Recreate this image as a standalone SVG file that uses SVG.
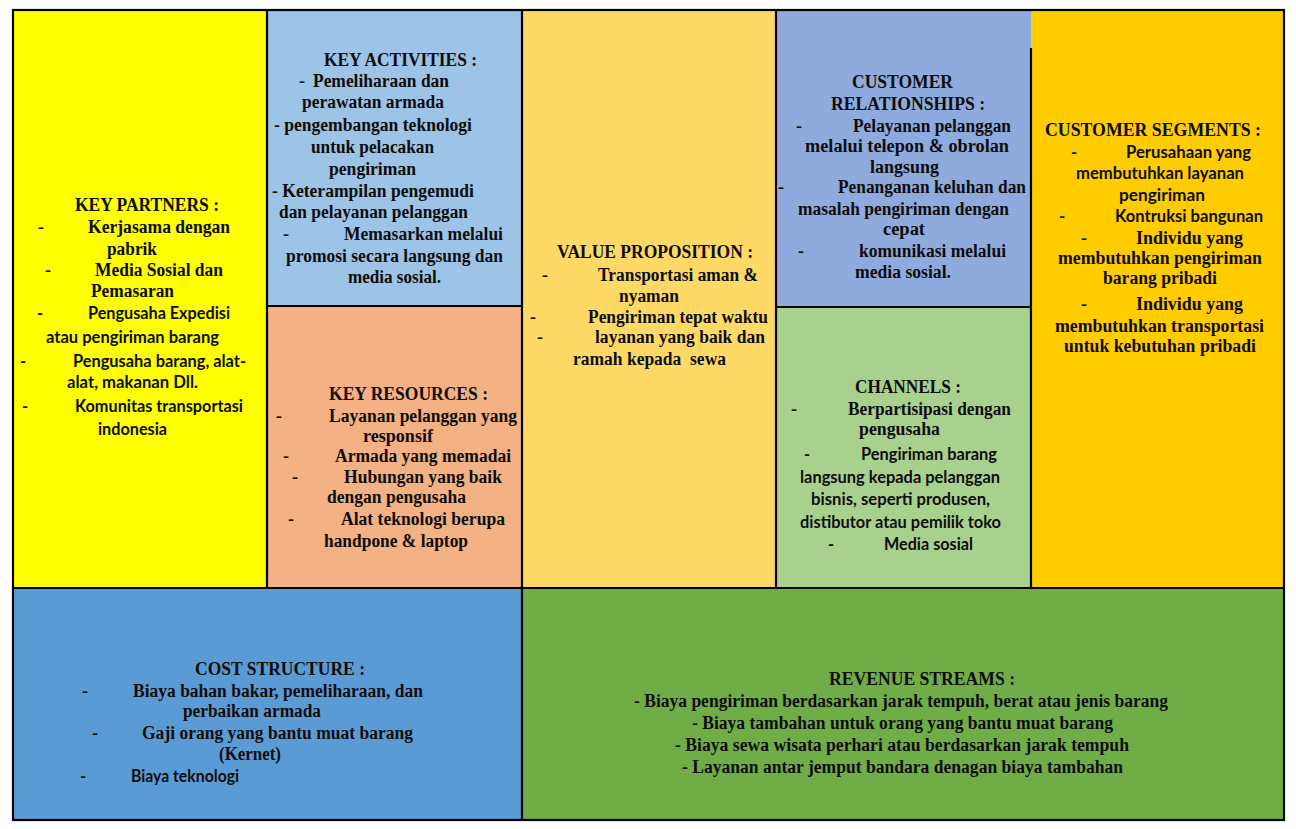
<svg xmlns="http://www.w3.org/2000/svg" width="1296" height="829" viewBox="0 0 1296 829">
<style>
text{fill:#0d0d0d;font-weight:bold}
.s{font-family:"Liberation Serif","Times New Roman",serif;font-size:18px}
.n{font-family:Lato,"Liberation Sans",sans-serif;font-size:16.5px}
.ln{stroke:#000;stroke-width:2.2;fill:none}
</style>
<rect width="1296" height="829" fill="#fff"/>
<g id="key-partners">
<rect x="13" y="10" width="254" height="578" fill="#FFFF00"/>
<text class="s" x="75" y="211" textLength="144" lengthAdjust="spacingAndGlyphs">KEY PARTNERS :</text>
<text class="s" x="38" y="233">-</text><text class="s" x="88" y="233" textLength="142" lengthAdjust="spacingAndGlyphs">Kerjasama dengan</text>
<text class="s" x="107" y="255" textLength="50" lengthAdjust="spacingAndGlyphs">pabrik</text>
<text class="s" x="45" y="276">-</text><text class="s" x="95" y="276" textLength="128" lengthAdjust="spacingAndGlyphs">Media Sosial dan</text>
<text class="s" x="91" y="297" textLength="83" lengthAdjust="spacingAndGlyphs">Pemasaran</text>
<text class="n" x="37" y="319">-</text><text class="n" x="88" y="319" textLength="142" lengthAdjust="spacingAndGlyphs">Pengusaha Expedisi</text>
<text class="n" x="46" y="343" textLength="173" lengthAdjust="spacingAndGlyphs">atau pengiriman barang</text>
<text class="n" x="20" y="367">-</text><text class="n" x="73" y="367" textLength="173" lengthAdjust="spacingAndGlyphs">Pengusaha barang, alat-</text>
<text class="n" x="67" y="388" textLength="131" lengthAdjust="spacingAndGlyphs">alat, makanan Dll.</text>
<text class="n" x="22" y="412">-</text><text class="n" x="75" y="412" textLength="168" lengthAdjust="spacingAndGlyphs">Komunitas transportasi</text>
<text class="n" x="98" y="435" textLength="69" lengthAdjust="spacingAndGlyphs">indonesia</text>
</g>
<g id="key-activities">
<rect x="267" y="10" width="255" height="296" fill="#9DC3E6"/>
<text class="s" x="324" y="66" textLength="153" lengthAdjust="spacingAndGlyphs">KEY ACTIVITIES :</text>
<text class="s" x="299" y="87">-</text><text class="s" x="313" y="87" textLength="136" lengthAdjust="spacingAndGlyphs">Pemeliharaan dan</text>
<text class="s" x="302" y="108" textLength="142" lengthAdjust="spacingAndGlyphs">perawatan armada</text>
<text class="s" x="274" y="131" textLength="198" lengthAdjust="spacingAndGlyphs">- pengembangan teknologi</text>
<text class="s" x="311" y="153" textLength="123" lengthAdjust="spacingAndGlyphs">untuk pelacakan</text>
<text class="s" x="329" y="175" textLength="87" lengthAdjust="spacingAndGlyphs">pengiriman</text>
<text class="s" x="272" y="197" textLength="202" lengthAdjust="spacingAndGlyphs">- Keterampilan pengemudi</text>
<text class="s" x="279" y="218" textLength="189" lengthAdjust="spacingAndGlyphs">dan pelayanan pelanggan</text>
<text class="s" x="283" y="240">-</text><text class="s" x="344" y="240" textLength="159" lengthAdjust="spacingAndGlyphs">Memasarkan melalui</text>
<text class="s" x="286" y="262" textLength="217" lengthAdjust="spacingAndGlyphs">promosi secara langsung dan</text>
<text class="s" x="348" y="283" textLength="93" lengthAdjust="spacingAndGlyphs">media sosial.</text>
</g>
<g id="key-resources">
<rect x="267" y="306" width="255" height="282" fill="#F4B183"/>
<text class="s" x="329" y="400" textLength="159" lengthAdjust="spacingAndGlyphs">KEY RESOURCES :</text>
<text class="s" x="276" y="422">-</text><text class="s" x="329" y="422" textLength="188" lengthAdjust="spacingAndGlyphs">Layanan pelanggan yang</text>
<text class="s" x="363" y="442" textLength="70" lengthAdjust="spacingAndGlyphs">responsif</text>
<text class="s" x="283" y="462">-</text><text class="s" x="335" y="462" textLength="176" lengthAdjust="spacingAndGlyphs">Armada yang memadai</text>
<text class="s" x="292" y="483">-</text><text class="s" x="344" y="483" textLength="158" lengthAdjust="spacingAndGlyphs">Hubungan yang baik</text>
<text class="s" x="327" y="503" textLength="139" lengthAdjust="spacingAndGlyphs">dengan pengusaha</text>
<text class="s" x="288" y="525">-</text><text class="s" x="341" y="525" textLength="164" lengthAdjust="spacingAndGlyphs">Alat teknologi berupa</text>
<text class="s" x="324" y="547" textLength="144" lengthAdjust="spacingAndGlyphs">handpone &amp; laptop</text>
</g>
<g id="value-proposition">
<rect x="522" y="10" width="254" height="578" fill="#FFD966"/>
<text class="s" x="557" y="258" textLength="196" lengthAdjust="spacingAndGlyphs">VALUE PROPOSITION :</text>
<text class="s" x="542" y="281">-</text><text class="s" x="598" y="281" textLength="160" lengthAdjust="spacingAndGlyphs">Transportasi aman &amp;</text>
<text class="s" x="619" y="302" textLength="60" lengthAdjust="spacingAndGlyphs">nyaman</text>
<text class="s" x="530" y="323">-</text><text class="s" x="588" y="323" textLength="180" lengthAdjust="spacingAndGlyphs">Pengiriman tepat waktu</text>
<text class="s" x="537" y="343">-</text><text class="s" x="595" y="343" textLength="170" lengthAdjust="spacingAndGlyphs">layanan yang baik dan</text>
<text class="s" x="573" y="365" textLength="153" lengthAdjust="spacingAndGlyphs" xml:space="preserve">ramah kepada  sewa</text>
</g>
<g id="customer-relationships">
<rect x="776" y="10" width="255" height="297" fill="#8FAADC"/>
<text class="s" x="852" y="88" textLength="101" lengthAdjust="spacingAndGlyphs">CUSTOMER</text>
<text class="s" x="831" y="110" textLength="154" lengthAdjust="spacingAndGlyphs">RELATIONSHIPS :</text>
<text class="s" x="796" y="132">-</text><text class="s" x="853" y="132" textLength="158" lengthAdjust="spacingAndGlyphs">Pelayanan pelanggan</text>
<text class="s" x="805" y="152" textLength="204" lengthAdjust="spacingAndGlyphs">melalui telepon &amp; obrolan</text>
<text class="s" x="870" y="173" textLength="69" lengthAdjust="spacingAndGlyphs">langsung</text>
<text class="s" x="778" y="193">-</text><text class="s" x="838" y="193" textLength="188" lengthAdjust="spacingAndGlyphs">Penanganan keluhan dan</text>
<text class="s" x="798" y="215" textLength="211" lengthAdjust="spacingAndGlyphs">masalah pengiriman dengan</text>
<text class="s" x="883" y="235" textLength="42" lengthAdjust="spacingAndGlyphs">cepat</text>
<text class="s" x="798" y="257">-</text><text class="s" x="859" y="257" textLength="147" lengthAdjust="spacingAndGlyphs">komunikasi melalui</text>
<text class="s" x="855" y="278" textLength="96" lengthAdjust="spacingAndGlyphs">media sosial.</text>
</g>
<g id="channels">
<rect x="776" y="307" width="255" height="281" fill="#A9D18E"/>
<text class="s" x="855" y="393" textLength="106" lengthAdjust="spacingAndGlyphs">CHANNELS :</text>
<text class="s" x="791" y="415">-</text><text class="s" x="848" y="415" textLength="163" lengthAdjust="spacingAndGlyphs">Berpartisipasi dengan</text>
<text class="s" x="859" y="435" textLength="81" lengthAdjust="spacingAndGlyphs">pengusaha</text>
<text class="n" x="804" y="460">-</text><text class="n" x="861" y="460" textLength="136" lengthAdjust="spacingAndGlyphs">Pengiriman barang</text>
<text class="n" x="800" y="483" textLength="200" lengthAdjust="spacingAndGlyphs">langsung kepada pelanggan</text>
<text class="n" x="811" y="505" textLength="179" lengthAdjust="spacingAndGlyphs">bisnis, seperti produsen,</text>
<text class="n" x="800" y="528" textLength="201" lengthAdjust="spacingAndGlyphs">distibutor atau pemilik toko</text>
<text class="n" x="828" y="550">-</text><text class="n" x="884" y="550" textLength="89" lengthAdjust="spacingAndGlyphs">Media sosial</text>
</g>
<g id="customer-segments">
<rect x="1031" y="10" width="253" height="578" fill="#FFCC00"/>
<text class="s" x="1045" y="136" textLength="216" lengthAdjust="spacingAndGlyphs">CUSTOMER SEGMENTS :</text>
<text class="n" x="1071" y="158">-</text><text class="n" x="1126" y="158" textLength="125" lengthAdjust="spacingAndGlyphs">Perusahaan yang</text>
<text class="n" x="1076" y="179" textLength="168" lengthAdjust="spacingAndGlyphs">membutuhkan layanan</text>
<text class="n" x="1119" y="201" textLength="86" lengthAdjust="spacingAndGlyphs">pengiriman</text>
<text class="n" x="1059" y="222">-</text><text class="n" x="1115" y="222" textLength="148" lengthAdjust="spacingAndGlyphs">Kontruksi bangunan</text>
<text class="s" x="1081" y="244">-</text><text class="s" x="1136" y="244" textLength="107" lengthAdjust="spacingAndGlyphs">Individu yang</text>
<text class="s" x="1058" y="264" textLength="204" lengthAdjust="spacingAndGlyphs">membutuhkan pengiriman</text>
<text class="s" x="1103" y="284" textLength="114" lengthAdjust="spacingAndGlyphs">barang pribadi</text>
<text class="s" x="1081" y="310">-</text><text class="s" x="1136" y="310" textLength="107" lengthAdjust="spacingAndGlyphs">Individu yang</text>
<text class="s" x="1055" y="332" textLength="209" lengthAdjust="spacingAndGlyphs">membutuhkan transportasi</text>
<text class="s" x="1064" y="352" textLength="192" lengthAdjust="spacingAndGlyphs">untuk kebutuhan pribadi</text>
</g>
<g id="cost-structure">
<rect x="13" y="588" width="509" height="232" fill="#5B9BD5"/>
<text class="s" x="195" y="675" textLength="170" lengthAdjust="spacingAndGlyphs">COST STRUCTURE :</text>
<text class="s" x="82" y="697">-</text><text class="s" x="133" y="697" textLength="290" lengthAdjust="spacingAndGlyphs">Biaya bahan bakar, pemeliharaan, dan</text>
<text class="s" x="183" y="717" textLength="138" lengthAdjust="spacingAndGlyphs">perbaikan armada</text>
<text class="s" x="92" y="739">-</text><text class="s" x="142" y="739" textLength="271" lengthAdjust="spacingAndGlyphs">Gaji orang yang bantu muat barang</text>
<text class="s" x="219" y="760" textLength="62" lengthAdjust="spacingAndGlyphs">(Kernet)</text>
<text class="n" x="80" y="782">-</text><text class="n" x="131" y="782" textLength="108" lengthAdjust="spacingAndGlyphs">Biaya teknologi</text>
</g>
<g id="revenue-streams">
<rect x="522" y="588" width="762" height="232" fill="#70AD47"/>
<text class="s" x="829" y="685" textLength="186" lengthAdjust="spacingAndGlyphs">REVENUE STREAMS :</text>
<text class="s" x="634" y="707" textLength="534" lengthAdjust="spacingAndGlyphs">- Biaya pengiriman berdasarkan jarak tempuh, berat atau jenis barang</text>
<text class="s" x="692" y="729" textLength="421" lengthAdjust="spacingAndGlyphs">- Biaya tambahan untuk orang yang bantu muat barang</text>
<text class="s" x="675" y="751" textLength="454" lengthAdjust="spacingAndGlyphs">- Biaya sewa wisata perhari atau berdasarkan jarak tempuh</text>
<text class="s" x="682" y="773" textLength="441" lengthAdjust="spacingAndGlyphs">- Layanan antar jemput bandara denagan biaya tambahan</text>
</g>
<g id="connectors">
<rect class="ln" x="13" y="10" width="1271" height="810"/>
<line class="ln" x1="267" y1="10" x2="267" y2="588"/>
<line class="ln" x1="522" y1="10" x2="522" y2="820"/>
<line class="ln" x1="776" y1="10" x2="776" y2="588"/>
<line class="ln" x1="1031" y1="48" x2="1031" y2="588"/>
<line class="ln" x1="13" y1="588" x2="1284" y2="588"/>
<line class="ln" x1="267" y1="306" x2="522" y2="306"/>
<line class="ln" x1="776" y1="307" x2="1031" y2="307"/>
</g>
</svg>
